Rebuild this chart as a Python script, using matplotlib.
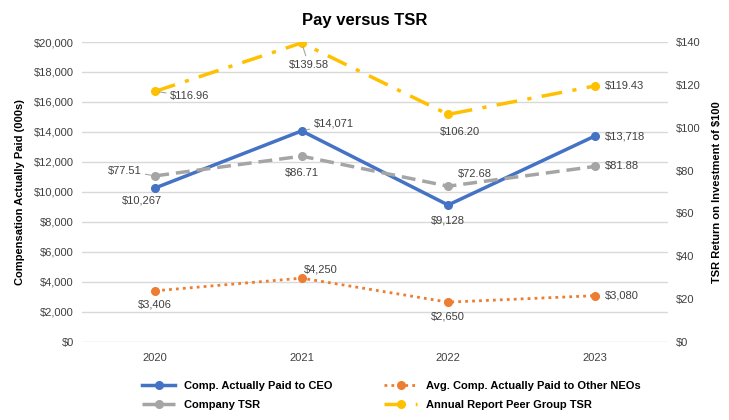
import matplotlib
matplotlib.use("Agg")
import matplotlib.pyplot as plt
from matplotlib.ticker import FuncFormatter

plt.rcParams['font.family'] = ['Liberation Sans', 'DejaVu Sans']

years = ["2020", "2021", "2022", "2023"]
ceo_cap = [10267, 14071, 9128, 13718]
neo_cap = [3406, 4250, 2650, 3080]
company_tsr = [77.51, 86.71, 72.68, 81.88]
peer_tsr = [116.96, 139.58, 106.20, 119.43]

c_ceo = "#4472C4"
c_neo = "#ED7D31"
c_tsr = "#A5A5A5"
c_peer = "#FFC000"
txt = "#404040"

fig = plt.figure(figsize=(7.29, 4.2), dpi=100)
ax = fig.add_axes([0.1125, 0.186, 0.8035, 0.714])
ax2 = ax.twinx()

x = list(range(len(years)))

l_ceo, = ax.plot(x, ceo_cap, color=c_ceo, lw=2.5, marker='o', ms=5.5, label="Comp. Actually Paid to CEO", zorder=4)
l_neo, = ax.plot(x, neo_cap, color=c_neo, lw=2.0, ls=(0, (1, 1.5)), marker='o', ms=5.5, label="Avg. Comp. Actually Paid to Other NEOs", zorder=4)
l_tsr, = ax2.plot(x, company_tsr, color=c_tsr, lw=2.5, ls=(0, (4, 2)), marker='o', ms=5.5, label="Company TSR", zorder=3)
l_peer, = ax2.plot(x, peer_tsr, color=c_peer, lw=2.5, ls=(0, (6, 3, 1.2, 3)), marker='o', ms=5.5, label="Annual Report Peer Group TSR", zorder=3)

ax.set_xlim(-0.5, 3.5)
ax.set_ylim(0, 20000)
ax2.set_ylim(0, 140)
ax.set_yticks(range(0, 20001, 2000))
ax2.set_yticks(range(0, 141, 20))
ax.yaxis.set_major_formatter(FuncFormatter(lambda v, p: "${:,.0f}".format(v)))
ax2.yaxis.set_major_formatter(FuncFormatter(lambda v, p: "${:,.0f}".format(v)))
ax.set_xticks(x)
ax.set_xticklabels(years)
ax.grid(axis='y', color='#D9D9D9', lw=1)
ax.set_axisbelow(True)
for a in (ax, ax2):
    for s in a.spines.values():
        s.set_visible(False)
    a.tick_params(length=0, labelsize=8, colors=txt, pad=6)
ax.tick_params(axis='x', pad=8)

ax.set_ylabel("Compensation Actually Paid (000s)", fontsize=8, fontweight='bold', color='black', labelpad=6)
ax2.set_ylabel("TSR Return on Investment of $100", fontsize=8, fontweight='bold', color='black', labelpad=8)
fig.suptitle("Pay versus TSR", x=0.5, y=0.968, fontsize=12, fontweight='bold')

def lab(a, xi, yv, text, dx, dy, ha='center', leader=False):
    kw = dict(textcoords='offset pixels', xytext=(dx, dy), ha=ha, va='center',
              fontsize=8, color=txt, zorder=6)
    if leader:
        kw['arrowprops'] = dict(arrowstyle='-', color='#A6A6A6', lw=0.8, shrinkA=1, shrinkB=3)
    a.annotate(text, xy=(xi, yv), **kw)

fmt_k = lambda v: "${:,.0f}".format(v)
fmt_t = lambda v: "${:.2f}".format(v)

# CEO labels
lab(ax, 0, ceo_cap[0], fmt_k(ceo_cap[0]), -13, -13)
lab(ax, 1, ceo_cap[1], fmt_k(ceo_cap[1]), 12, 7, ha='left', leader=True)
lab(ax, 2, ceo_cap[2], fmt_k(ceo_cap[2]), 0, -15)
lab(ax, 3, ceo_cap[3], fmt_k(ceo_cap[3]), 10, 0, ha='left')
# NEO labels
lab(ax, 0, neo_cap[0], fmt_k(neo_cap[0]), 0, -14)
lab(ax, 1, neo_cap[1], fmt_k(neo_cap[1]), 19, 9)
lab(ax, 2, neo_cap[2], fmt_k(neo_cap[2]), 0, -14)
lab(ax, 3, neo_cap[3], fmt_k(neo_cap[3]), 10, 0, ha='left')
# Company TSR labels
lab(ax2, 0, company_tsr[0], fmt_t(company_tsr[0]), -14, 5, ha='right', leader=True)
lab(ax2, 1, company_tsr[1], fmt_t(company_tsr[1]), 0, -17)
lab(ax2, 2, company_tsr[2], fmt_t(company_tsr[2]), 10, 12, ha='left')
lab(ax2, 3, company_tsr[3], fmt_t(company_tsr[3]), 10, 0, ha='left')
# Peer labels
lab(ax2, 0, peer_tsr[0], fmt_t(peer_tsr[0]), 15, -5, ha='left', leader=True)
lab(ax2, 1, peer_tsr[1], fmt_t(peer_tsr[1]), -13, -22, ha='left', leader=True)
lab(ax2, 2, peer_tsr[2], fmt_t(peer_tsr[2]), 12, -18)
lab(ax2, 3, peer_tsr[3], fmt_t(peer_tsr[3]), 10, 0, ha='left')

leg = fig.legend([l_ceo, l_tsr, l_neo, l_peer],
                 [l_ceo.get_label(), l_tsr.get_label(), l_neo.get_label(), l_peer.get_label()],
                 ncol=2, loc='lower center', bbox_to_anchor=(0.537, 0.0), frameon=False,
                 fontsize=8, columnspacing=4.6, handlelength=3.0, labelspacing=0.8)
for t in leg.get_texts():
    t.set_fontweight('bold')
    t.set_color('black')

fig.savefig("out.png", dpi=100)
